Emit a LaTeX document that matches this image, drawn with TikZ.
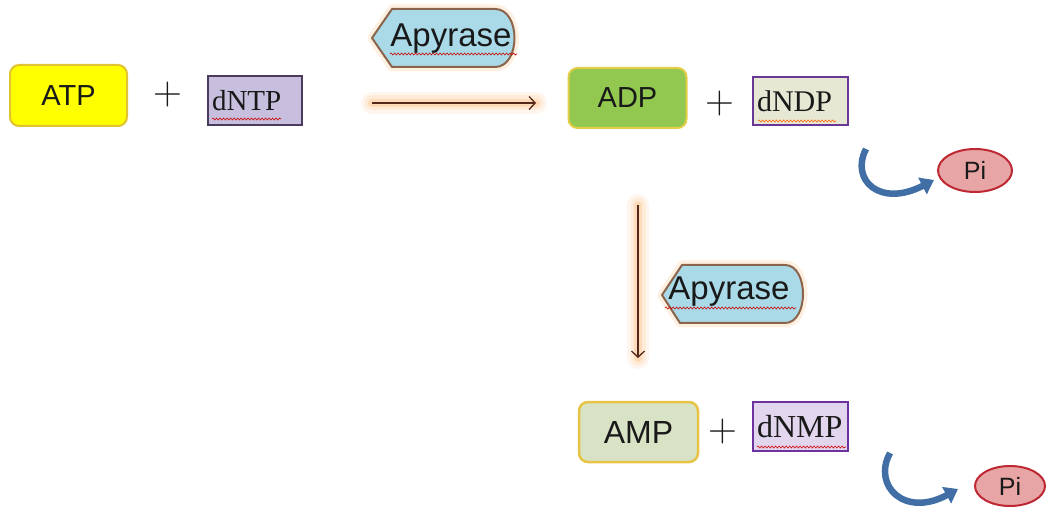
\documentclass[tikz,border=0pt]{standalone}
\usepackage{fontspec}
\newfontfamily\arialf{Liberation Sans}
\newfontfamily\serf{Liberation Serif}
\usetikzlibrary{arrows.meta,decorations.pathmorphing,shapes.geometric}
\definecolor{atpfill}{RGB}{255,255,0}
\definecolor{atpdraw}{RGB}{225,195,50}
\definecolor{ntpfill}{RGB}{200,190,222}
\definecolor{ntpdraw}{RGB}{75,60,95}
\definecolor{adpfill}{RGB}{146,200,80}
\definecolor{adpdraw}{RGB}{225,205,70}
\definecolor{ndpfill}{RGB}{230,232,212}
\definecolor{ndpdraw}{RGB}{105,55,150}
\definecolor{ampfill}{RGB}{216,226,196}
\definecolor{ampdraw}{RGB}{232,196,70}
\definecolor{nmpfill}{RGB}{226,214,238}
\definecolor{nmpdraw}{RGB}{110,50,160}
\definecolor{enzfill}{RGB}{170,218,232}
\definecolor{enzdraw}{RGB}{140,100,75}
\definecolor{arrowc}{RGB}{85,40,30}
\definecolor{glowc}{RGB}{250,170,90}
\definecolor{bluec}{RGB}{65,110,165}
\definecolor{pifill}{RGB}{232,165,165}
\definecolor{pidraw}{RGB}{190,40,50}
\definecolor{txtc}{RGB}{25,25,25}
\begin{document}
\begin{tikzpicture}[x=1pt,y=-1pt,
  mol/.style={rounded corners=9pt, line width=2pt, inner sep=0pt, text=txtc},
  nuc/.style={line width=2.2pt, inner ysep=0pt, inner xsep=4pt, align=left, text=txtc},
  plussign/.style={font=\fontsize{40}{42}\selectfont, inner sep=0pt, text=txtc},
  glowa/.style={draw=glowc, line width=22pt, opacity=0.10, line cap=round},
  glowb/.style={draw=glowc, line width=15pt, opacity=0.15, line cap=round},
  glowc/.style={draw=glowc, line width=8pt, opacity=0.25, line cap=round},
  rxn/.style={draw=arrowc, line width=1.3pt, -{Straight Barb[length=6pt,width=13pt]}},
  wavy/.style={draw=red!80!black, line width=0.6pt, decorate,
    decoration={snake, amplitude=1pt, segment length=3.5pt}},
  enz/.style={fill=enzfill, draw=enzdraw, line width=2pt, line join=round},
  enzglow/.style={draw=glowc, line width=9pt, opacity=0.18, line join=round},
  enztext/.style={font=\arialf\fontsize{33}{35}\selectfont, inner sep=0pt, anchor=base, text=txtc},
  bendarrow/.style={draw=bluec, line width=6.5pt, -{Triangle[length=13pt,width=18pt]}},
  pinode/.style={ellipse, fill=pifill, draw=pidraw, line width=2pt, inner sep=0pt, text=txtc,
    font=\arialf\fontsize{25}{27}\selectfont}
]
\useasboundingbox (0,0) rectangle (1046,510);

% ---------- top row ----------
\node[mol, fill=atpfill, draw=atpdraw, minimum width=117pt, minimum height=61pt,
  font=\arialf\fontsize{29}{31}\selectfont] (atp) at (68.5,95.5) {ATP};
\node[plussign] (p1) at (168,95) {+};
\node[nuc, fill=ntpfill, draw=ntpdraw, text width=86pt, minimum height=49pt,
  font=\serf\fontsize{29}{31}\selectfont] (dntp) at (255,100.5) {dNTP};
\draw[wavy] (212,119) -- (281,119);

% enzyme 1
\path[enzglow] (372,38) -- (392,9) -- (495,9) .. controls (521,9) and (521,67) .. (495,67) -- (392,67) -- cycle;
\path[enz] (372,38) -- (392,9) -- (495,9) .. controls (521,9) and (521,67) .. (495,67) -- (392,67) -- cycle;
\node[enztext] (enz1) at (451,47) {Apyrase};
\draw[wavy] (390,54) -- (517,54);

% reaction arrow 1
\coordinate (a1s) at (372,103);
\coordinate (a1e) at (536,103);
\draw[glowa] (a1s) -- (a1e);
\draw[glowb] (a1s) -- (a1e);
\draw[glowc] (a1s) -- (a1e);
\draw[rxn] (a1s) -- (a1e);

\node[mol, fill=adpfill, draw=adpdraw, minimum width=118pt, minimum height=60pt,
  font=\arialf\fontsize{29}{31}\selectfont] (adp) at (627.5,98) {ADP};
\node[plussign] (p2) at (720,104) {+};
\node[nuc, fill=ndpfill, draw=ndpdraw, text width=87pt, minimum height=48pt,
  font=\serf\fontsize{30}{32}\selectfont] (dndp) at (800.5,101) {dNDP};
\draw[wavy, draw=orange!80!red] (758,121) -- (836,121);

% Pi 1
\coordinate (b1s) at (866,149);
\coordinate (b1e) at (934,180);
\draw[bendarrow] (b1s) .. controls (850,180) and (880,208) .. (b1e);
\node[pinode, minimum width=74pt, minimum height=43pt] (pi1) at (975,170.5) {Pi};

% ---------- vertical step ----------
\coordinate (a2s) at (638,205);
\coordinate (a2e) at (638,358);
\draw[glowa] (a2s) -- (a2e);
\draw[glowb] (a2s) -- (a2e);
\draw[glowc] (a2s) -- (a2e);
\draw[rxn] (a2s) -- (a2e);

\path[enzglow] (662,295) -- (682,265) -- (785,265) .. controls (809,265) and (809,323) .. (785,323) -- (680,323) -- cycle;
\path[enz] (662,295) -- (682,265) -- (785,265) .. controls (809,265) and (809,323) .. (785,323) -- (680,323) -- cycle;
\node[enztext] (enz2) at (729,300) {Apyrase};
\draw[wavy] (665,308) -- (796,308);

% ---------- bottom row ----------
\node[mol, fill=ampfill, draw=ampdraw, line width=2.5pt, minimum width=119pt, minimum height=60pt,
  font=\arialf\fontsize{32}{34}\selectfont] (amp) at (638.5,432) {AMP};
\node[plussign] (p3) at (723,432) {+};
\node[nuc, fill=nmpfill, draw=nmpdraw, text width=87pt, minimum height=49pt,
  font=\serf\fontsize{32}{34}\selectfont] (dnmp) at (800.5,426.5) {dNMP};
\draw[wavy] (757,447) -- (846,447);

% Pi 2
\coordinate (b2s) at (890,453);
\coordinate (b2e) at (958,489);
\draw[bendarrow] (b2s) .. controls (872,486) and (905,518) .. (b2e);
\node[pinode, minimum width=70pt, minimum height=40pt] (pi2) at (1010,486) {Pi};
\end{tikzpicture}
\end{document}
